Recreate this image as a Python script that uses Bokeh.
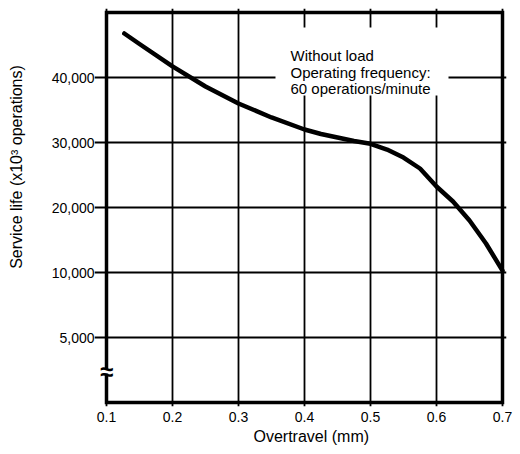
import math
from bokeh.plotting import figure
from bokeh.layouts import row
from bokeh.models import Range1d, FixedTicker, NumeralTickFormatter, Label, BoxAnnotation, Title
from bokeh.core.properties import value
from bokeh.embed import file_html
from bokeh.resources import INLINE

# ---- data ----
overtravel = [0.127, 0.15, 0.2, 0.25, 0.3, 0.35, 0.4, 0.425, 0.45, 0.475, 0.5, 0.525, 0.55, 0.575,
              0.6, 0.625, 0.65, 0.675, 0.7]
service_life = [46770, 45150, 41700, 38620, 36000, 33850, 32000, 31310, 30770, 30230, 29800, 28920,
                27690, 26000, 23230, 20920, 18000, 14460, 10300]

x_ticks = [0.1, 0.2, 0.3, 0.4, 0.5, 0.6, 0.7]
y_tick_values = [0, 10000, 20000, 30000, 40000]
y_tick_labels = ["5,000", "10,000", "20,000", "30,000", "40,000"]
x_min, x_max = 0.1, 0.7
y_min, y_max = -10000, 50000   # axis is broken: the "5,000" line sits at 0

note_lines = ["Without load", "Operating frequency:", "60 operations/minute"]
x_title = "Overtravel (mm)"
y_title = "Service life (x10\u00b3 operations)"

FONT = "Liberation Sans"
TICK_SIZE = "14px"
H = 452
LBL_W = 30          # width of the strip that carries the y title

# geometry of the data box in pixels
BOX_W, BOX_H = 396, 390
PAD_L, PAD_R, PAD_T, PAD_B = 12, 4, 4, 4
ux = (x_max - x_min) / BOX_W        # data units per pixel
uy = (y_max - y_min) / BOX_H

def X(dpx):  # pixel offset from the left edge of the data box -> data x
    return x_min + dpx * ux

def Y(dpy):  # pixel offset from the top edge of the data box -> data y
    return y_max - dpy * uy

# ---- narrow strip with the y-axis title ----
t = figure(width=LBL_W, height=H, output_backend="svg", toolbar_location=None,
           x_range=Range1d(0, LBL_W), y_range=Range1d(0, H),
           x_axis_location=None, y_axis_location=None,
           min_border_left=0, min_border_right=0, min_border_top=0, min_border_bottom=0)
t.outline_line_color = None
t.xgrid.visible = False
t.ygrid.visible = False
t.background_fill_color = "white"
t.border_fill_color = "white"
t.add_layout(Label(x=15.5, y=H - 180, text=y_title, text_font=FONT, text_font_size="16px",
                   text_color="black", text_align="center", text_baseline="middle",
                   angle=math.pi / 2))

# ---- main chart ----
p = figure(width=516 - LBL_W, height=H, output_backend="svg", toolbar_location=None,
           x_range=Range1d(x_min - PAD_L * ux, x_max + PAD_R * ux),
           y_range=Range1d(y_min - PAD_B * uy, y_max + PAD_T * uy),
           min_border_left=94 - LBL_W, min_border_right=10, min_border_top=8, min_border_bottom=46)
p.background_fill_color = "white"
p.border_fill_color = "white"
p.outline_line_color = None

p.xaxis.ticker = FixedTicker(ticks=x_ticks)
p.xaxis.formatter = NumeralTickFormatter(format="0.0")
p.yaxis.ticker = FixedTicker(ticks=y_tick_values)
p.yaxis.major_label_overrides = {v: l for v, l in zip(y_tick_values, y_tick_labels)}

p.axis.axis_line_color = None
p.axis.major_tick_line_color = None
p.axis.minor_tick_line_color = None
p.axis.major_tick_out = 0
p.axis.major_tick_in = 0
p.axis.major_label_text_font = FONT
p.axis.major_label_text_font_size = TICK_SIZE
p.axis.major_label_text_color = "black"
p.xaxis.major_label_standoff = 5
p.yaxis.major_label_standoff = 0

for g in (p.xgrid[0], p.ygrid[0]):
    g.grid_line_color = "black"
    g.grid_line_width = 1.8
    g.grid_line_alpha = 1
p.xgrid.bounds = (y_min, y_max)
p.ygrid.bounds = (x_min, x_max)

# white box behind the note
p.add_layout(BoxAnnotation(left=X(169), right=X(342), bottom=Y(83), top=Y(15),
                           fill_color="white", fill_alpha=1, line_color=None, level="underlay"))

# frame of the chart
p.quad(left=[x_min], right=[x_max], bottom=[y_min], top=[y_max],
       fill_color=None, line_color="black", line_width=3.5, line_join="miter")

# axis break mark
p.quad(left=[X(-2.5)], right=[X(2.5)], bottom=[Y(361)], top=[Y(357)],
       fill_color="white", line_color=None)
p.text(x=[X(0)], y=[Y(359)], text=["\u2248"], text_font=value(FONT), text_font_size="24px",
       text_font_style="bold", text_align="center", text_baseline="middle", text_color="black")

p.line(overtravel, service_life, line_color="black", line_width=4.5,
       line_join="round", line_cap="round")

note_y = [Y(43), Y(60), Y(76)]
for txt, yy in zip(note_lines, note_y):
    p.add_layout(Label(x=X(184), y=yy, text=txt, text_font=FONT, text_font_size="15px",
                       text_color="black", text_baseline="alphabetic", text_align="left"))

# x axis title
p.add_layout(Title(text=x_title, align="left", offset=159, standoff=2, text_font=FONT,
                   text_font_size="16px", text_font_style="normal", text_color="black"), "below")

layout = row(t, p, spacing=0)
open("out.html", "w").write(file_html(layout, INLINE))
